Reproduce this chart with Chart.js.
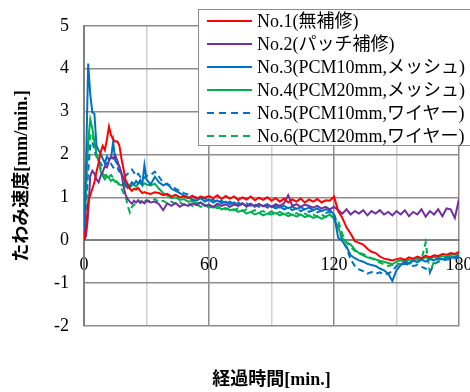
<!DOCTYPE html>
<html lang="ja">
<head>
<meta charset="UTF-8">
<title>たわみ速度</title>
<script src="https://cdn.jsdelivr.net/npm/chart.js@4.4.0/dist/chart.umd.min.js"></script>
<style>
    body { margin: 0; background: #fff; }
    #wrap { position: relative; width: 470px; height: 392px; overflow: hidden; }
    #legend {
        position: absolute; left: 198px; top: 9px; width: 300px; height: 137px;
        border: 1px solid #8c8c8c; background: #fff; box-sizing: border-box;
        font-family: 'Liberation Serif', 'Noto Sans CJK JP', serif; font-size: 18px; color: #000;
    }
    .row { position: absolute; left: 0; height: 23px; line-height: 23px; white-space: nowrap; }
    .sample { position: absolute; left: 8px; top: 10px; width: 45px; height: 2px; }
    .label { position: absolute; left: 58px; top: 0; }
</style>
</head>
<body>
<div id="wrap">
    <canvas id="chart" width="470" height="392"></canvas>
    <div id="legend"></div>
</div>
<script>
// time [min.]: every minute to 30, then every 2 minutes
const times = [
    0, 1, 2, 3, 4, 5, 6, 7, 8, 9, 10, 11, 12, 13, 14, 15, 16, 17, 18, 19, 20,
    21, 22, 23, 24, 25, 26, 27, 28, 29, 30,
    32, 34, 36, 38, 40, 42, 44, 46, 48, 50,
    52, 54, 56, 58, 60, 62, 64, 66, 68, 70,
    72, 74, 76, 78, 80, 82, 84, 86, 88, 90,
    92, 94, 96, 98, 100, 102, 104, 106, 108, 110,
    112, 114, 116, 118, 120, 122, 124, 126, 128, 130,
    132, 134, 136, 138, 140, 142, 144, 146, 148, 150,
    152, 154, 156, 158, 160, 162, 164, 166, 168, 170,
    172, 174, 176, 178, 180
];

const seriesNames = [
    'No.1(無補修)',
    'No.2(パッチ補修)',
    'No.3(PCM10mm,メッシュ)',
    'No.4(PCM20mm,メッシュ)',
    'No.5(PCM10mm,ワイヤー)',
    'No.6(PCM20mm,ワイヤー)'
];
const seriesColors = ['#ff0000', '#7030a0', '#0070c0', '#00b050', '#0070c0', '#00b050'];
const seriesDashed = [false, false, false, false, true, true];

const no1 = [
    0, 0.3, 0.9, 1.05, 1.2, 1.35, 1.6, 1.8, 2.05, 2.2, 2.1,
    2.35, 2.65, 2.45, 2.35, 2.3, 2.3, 2.2, 1.9, 1.65, 1.4,
    1.3, 1.2, 1.15, 1.2, 1.18, 1.22, 1.15, 1.1, 1.12, 1.1,
    1.08, 1.12, 1.1, 1.05, 1.08, 1.02, 1.06, 1.0, 1.03, 0.98,
    1.04, 0.97, 1.02, 0.99, 1.03, 0.98, 1.05, 0.96, 1.03, 0.97,
    1.02, 0.94, 1.0, 0.95, 1.02, 0.93, 0.99, 0.94, 1.0, 0.92,
    0.98, 0.9, 0.97, 0.88, 0.95, 0.9, 0.97, 0.88, 0.95, 0.9,
    0.96, 0.88, 0.93, 0.92, 1.02, 0.68, 0.52, 0.3, 0.15, -0.02,
    -0.06, -0.1, -0.2, -0.27, -0.3, -0.38, -0.43, -0.45, -0.47, -0.44,
    -0.42, -0.46, -0.4, -0.43, -0.38, -0.42, -0.36, -0.4, -0.35, -0.37,
    -0.32, -0.34, -0.3, -0.32, -0.27
];
const no2 = [
    0, 0.1, 0.6, 1.5, 1.62, 1.55, 1.42, 1.35, 1.5, 1.6, 1.72,
    1.7, 1.85, 1.95, 1.9, 1.98, 1.86, 1.7, 1.55, 1.25, 1.05,
    0.96, 0.9, 0.85, 0.92, 0.88, 0.93, 0.87, 0.9, 0.86, 0.92,
    0.88, 0.9, 0.84, 0.7, 0.86, 0.8, 0.87, 0.78, 0.84, 0.8,
    0.86, 0.82, 0.88, 0.8, 0.83, 0.78, 0.85, 0.8, 0.84, 0.78,
    0.83, 0.8, 0.86, 0.78, 0.84, 0.8, 0.85, 0.79, 0.82, 0.78,
    0.84, 0.8, 0.86, 1.05, 0.8, 0.84, 0.78, 0.83, 0.8, 0.76,
    0.8, 0.74, 0.78, 0.72, 0.78, 0.7, 0.62, 0.72, 0.6, 0.68,
    0.62, 0.7, 0.58, 0.68, 0.62, 0.7, 0.6, 0.66, 0.58, 0.68,
    0.6, 0.7, 0.56, 0.66, 0.6, 0.72, 0.55, 0.68, 0.6, 0.72,
    0.56, 0.74, 0.72, 0.52, 0.96
];
const no3 = [
    0, 1.8, 4.12, 3.4, 2.98, 2.95, 2.2, 2.1, 2.02, 1.9, 1.8,
    1.95, 1.88, 1.92, 2.3, 1.85, 1.78, 1.72, 1.55, 1.45, 1.3,
    1.22, 1.28, 1.35, 1.3, 1.38, 1.32, 1.4, 1.3, 1.75, 1.42,
    1.3, 1.48, 1.35, 1.28, 1.32, 1.2, 1.15, 1.1, 1.04, 1.0,
    0.95, 0.92, 0.98, 0.9, 0.95, 0.88, 0.93, 0.86, 0.9, 0.84,
    0.88, 0.82, 0.86, 0.8, 0.85, 0.78, 0.83, 0.8, 0.84, 0.78,
    0.8, 0.76, 0.8, 0.75, 0.78, 0.73, 0.77, 0.72, 0.76, 0.7,
    0.74, 0.68, 0.72, 0.7, 0.6, 0.06, -0.02, -0.15, -0.35, -0.42,
    -0.47, -0.5, -0.55, -0.58, -0.6, -0.66, -0.7, -0.78, -0.95, -0.7,
    -0.58, -0.5, -0.53, -0.48, -0.5, -0.45, -0.5, -0.44, -0.47, -0.42,
    -0.45, -0.4, -0.42, -0.38, -0.36
];
const no4 = [
    0, 1.2, 2.3, 2.82, 2.6, 2.3, 2.0, 1.85, 1.6, 1.5, 1.42,
    1.5, 1.45, 1.38, 1.42, 1.36, 1.35, 1.3, 1.28, 1.32, 1.25,
    1.3, 1.22, 1.28, 1.3, 1.25, 1.32, 1.34, 1.28, 1.33, 1.3,
    1.28, 1.32, 1.2, 1.1, 1.04, 0.98, 1.0, 0.94, 0.96, 0.9,
    0.92, 0.86, 0.88, 0.82, 0.8, 0.76, 0.8, 0.72, 0.75, 0.7,
    0.72, 0.66, 0.7, 0.62, 0.66, 0.6, 0.64, 0.58, 0.62, 0.6,
    0.64, 0.58, 0.62, 0.56, 0.6, 0.55, 0.6, 0.54, 0.58, 0.52,
    0.56, 0.5, 0.55, 0.6, 0.5, 0.3, 0.05, -0.05, -0.1, -0.22,
    -0.3, -0.35, -0.4, -0.42, -0.45, -0.48, -0.5, -0.53, -0.56, -0.5,
    -0.47, -0.5, -0.45, -0.47, -0.43, -0.45, -0.4, -0.43, -0.39, -0.41,
    -0.37, -0.39, -0.34, -0.33, -0.3
];
const no5 = [
    0, 0.8, 1.6, 2.2, 2.3, 2.1, 1.95, 1.85, 1.8, 1.7, 1.75,
    1.8, 1.72, 1.78, 1.7, 1.65, 1.68, 1.6, 1.58, 1.55, 1.5,
    1.55, 1.6, 1.65, 1.58, 1.5, 1.55, 1.48, 1.52, 1.45, 1.5,
    1.52, 1.6, 1.48, 1.34, 1.3, 1.26, 1.2, 1.15, 1.1, 1.06,
    1.02, 1.0, 0.96, 0.98, 0.92, 0.95, 0.88, 0.92, 0.86, 0.9,
    0.84, 0.88, 0.82, 0.86, 0.8, 0.84, 0.78, 0.82, 0.76, 0.8,
    0.74, 0.78, 0.72, 0.76, 0.7, 0.75, 0.68, 0.72, 0.66, 0.7,
    0.65, 0.69, 0.64, 0.66, 0.62, 0.3, 0.0, -0.18, -0.45, -0.6,
    -0.68, -0.72, -0.78, -0.74, -0.78, -0.75, -0.8, -0.78, -0.72, -0.6,
    -0.58, -0.55, -0.57, -0.6, -0.58, -0.62, -0.66, -0.75, -0.56, -0.5,
    -0.48, -0.45, -0.44, -0.42, -0.4
];
const no6 = [
    0, 0.9, 2.0, 2.45, 2.5, 2.2, 2.1, 1.8, 1.68, 1.55, 1.5,
    1.55, 1.48, 1.52, 1.45, 1.4, 1.35, 1.27, 1.2, 1.1, 1.02,
    0.8, 0.65, 0.78, 0.82, 0.9, 0.92, 0.88, 0.95, 0.9, 0.94,
    0.9, 0.96, 0.88, 0.92, 0.86, 0.9, 0.84, 0.88, 0.82, 0.86,
    0.8, 0.84, 0.78, 0.82, 0.76, 0.8, 0.74, 0.78, 0.72, 0.75,
    0.7, 0.74, 0.68, 0.72, 0.66, 0.7, 0.65, 0.68, 0.62, 0.67,
    0.62, 0.66, 0.6, 0.64, 0.58, 0.63, 0.58, 0.62, 0.56, 0.6,
    0.55, 0.6, 0.54, 0.58, 0.55, 0.45, 0.14, -0.05, -0.16, -0.25,
    -0.3, -0.32, -0.38, -0.42, -0.48, -0.52, -0.56, -0.6, -0.58, -0.55,
    -0.56, -0.52, -0.55, -0.5, -0.52, -0.45, -0.05, -0.75, -0.5, -0.45,
    -0.44, -0.4, -0.38, -0.36, -0.34
];

const seriesValues = [no1, no2, no3, no4, no5, no6];

const serif = "'Liberation Serif', 'Noto Sans CJK JP', serif";
const gridDark = '#8c8c8c';
const gridLight = '#d0d0d0';

const datasets = seriesValues.map((vals, i) => ({
    label: seriesNames[i],
    data: times.map((t, k) => ({ x: t, y: vals[k] })),
    borderColor: seriesColors[i],
    backgroundColor: seriesColors[i],
    borderWidth: 2,
    borderDash: seriesDashed[i] ? [6, 4] : [],
    pointRadius: 0,
    tension: 0,
    fill: false
}));

const chart = new Chart(document.getElementById('chart'), {
    type: 'line',
    data: { datasets: datasets },
    options: {
        responsive: false,
        animation: false,
        devicePixelRatio: 1,
        layout: { padding: { top: 20, right: 11, left: 0, bottom: 0 } },
        plugins: { legend: { display: false }, tooltip: { enabled: false } },
        scales: {
            x: {
                type: 'linear',
                min: 0, max: 180,
                position: { y: 0 },
                ticks: {
                    stepSize: 30,
                    autoSkip: false,
                    maxRotation: 0,
                    padding: 14,
                    color: '#000',
                    font: { family: serif, size: 18 },
                    callback: v => (v % 60 === 0 ? v : '')
                },
                grid: {
                    drawTicks: false,
                    lineWidth: 1.5,
                    color: ctx => (ctx.tick && ctx.tick.value % 60 === 0 ? gridDark : gridLight)
                },
                border: { color: '#808080', width: 2 },
                afterFit: s => { s.paddingLeft = 0; s.paddingRight = 0; }
            },
            x2: {
                type: 'linear',
                min: 0, max: 180,
                position: 'bottom',
                ticks: { display: false },
                grid: { display: false },
                border: { display: false },
                title: {
                    display: true,
                    text: '経過時間[min.]',
                    color: '#000',
                    font: { family: serif, size: 18, weight: 'bold' },
                    padding: { top: 0, bottom: 1 }
                },
                afterFit: s => { s.height = 66; s.paddingLeft = 0; s.paddingRight = 0; }
            },
            y: {
                min: -2, max: 5,
                ticks: {
                    stepSize: 1,
                    padding: 15,
                    color: '#000',
                    font: { family: serif, size: 18 }
                },
                grid: { drawTicks: false, lineWidth: 1.5, color: gridDark },
                border: { color: '#808080', width: 2 },
                title: {
                    display: true,
                    text: 'たわみ速度[mm/min.]',
                    color: '#000',
                    font: { family: serif, size: 18, weight: 'bold' },
                    padding: { top: 12, bottom: 0 }
                },
                afterFit: s => { s.width = 84; }
            }
        }
    }
});

// legend box drawn over the plot like the original
const legend = document.getElementById('legend');
chart.data.datasets.forEach((ds, i) => {
    const row = document.createElement('div');
    row.className = 'row';
    row.style.top = (i * 23) + 'px';
    const sample = document.createElement('span');
    sample.className = 'sample';
    sample.style.background = seriesDashed[i]
        ? `repeating-linear-gradient(90deg, ${ds.borderColor} 0 7px, transparent 7px 12px)`
        : ds.borderColor;
    const label = document.createElement('span');
    label.className = 'label';
    label.textContent = ds.label;
    row.appendChild(sample);
    row.appendChild(label);
    legend.appendChild(row);
});
</script>
</body>
</html>
